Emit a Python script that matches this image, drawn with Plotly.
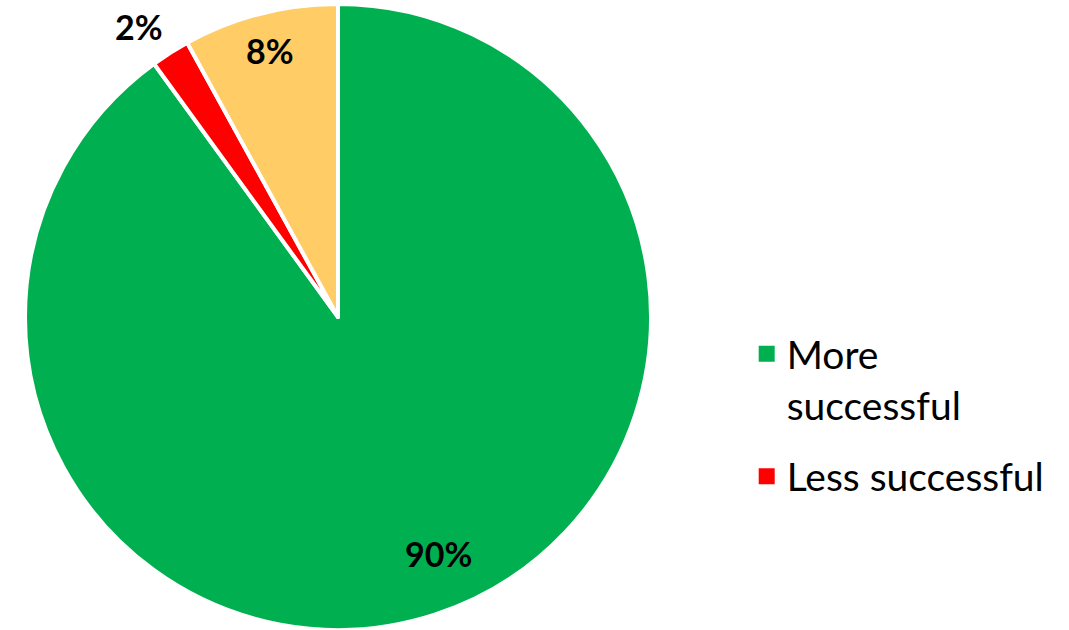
import numpy as np
import plotly.graph_objects as go

labels = ["More successful", "Less successful", "No change"]
values = [90, 2, 8]
colors = ["#00B050", "#FF0000", "#FFCC66"]
legend_labels = ["More<br>successful", "Less successful"]
legend_colors = ["#00B050", "#FF0000"]

# label placement (style): radius as fraction of pie radius, angular shift in degrees
label_radius = [0.82, 1.125, 0.88]
label_shift = [-5, -2, 0]

W, H = 1069, 630
M_T = 4
dom_x = [0, 676 / W]

fig = go.Figure()
fig.add_trace(go.Pie(
    labels=labels, values=values, sort=False, direction="clockwise", rotation=0,
    marker=dict(colors=colors, line=dict(color="white", width=4)),
    textinfo="none", showlegend=False,
    domain=dict(x=dom_x, y=[0, 1]), hoverinfo="label+percent",
))
for i, (name, c) in enumerate(zip(legend_labels, legend_colors)):
    fig.add_trace(go.Scatter(x=[None], y=[None], mode="markers", name=name,
                             legendgroup=f"g{i}",
                             marker=dict(symbol="square", size=16, color=c)))

# percentage labels placed from the data
vals = np.array(values, dtype=float)
frac = vals / vals.sum()
cum = np.cumsum(frac)
mid = (cum - frac / 2) * 360.0
plot_h = H - M_T
R = min(W * (dom_x[1] - dom_x[0]), plot_h) / 2
cx = W * (dom_x[0] + dom_x[1]) / 2
cy = M_T + plot_h / 2
for f, m, rf, sh in zip(frac, mid, label_radius, label_shift):
    a = np.deg2rad(m + sh)
    px = cx + rf * R * np.sin(a)
    py = cy - rf * R * np.cos(a)
    fig.add_annotation(
        x=px / W, y=1 - (py - M_T) / plot_h, xref="paper", yref="paper",
        text=f"<b>{round(f * 100):.0f}%</b>", showarrow=False,
        font=dict(family="Lato", size=34, color="black"),
        xanchor="center", yanchor="middle",
    )

fig.update_layout(
    width=W, height=H, margin=dict(l=0, r=0, t=M_T, b=0, autoexpand=False),
    paper_bgcolor="white", plot_bgcolor="white",
    xaxis=dict(visible=False), yaxis=dict(visible=False),
    legend=dict(x=0.6985, y=1 - (322 - M_T) / plot_h, xanchor="left", yanchor="top",
                font=dict(family="Lato", size=39, color="black"),
                valign="top", tracegroupgap=18),
)
fig.write_html("out.html", config={"displayModeBar": False},
               post_script="document.body.style.margin='0';")
